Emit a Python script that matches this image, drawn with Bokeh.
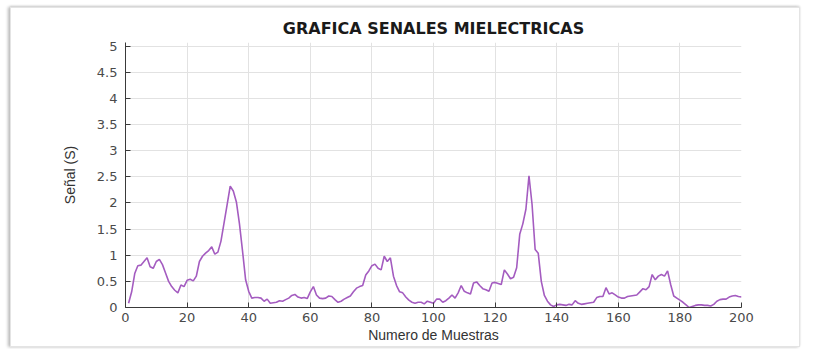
from bokeh.plotting import figure
from bokeh.models import FixedTicker, Range1d
from bokeh.embed import file_html
from bokeh.resources import INLINE

title_text = "GRAFICA SENALES MIELECTRICAS"
x_label = "Numero de Muestras"
y_label = "Señal (S)"

samples = list(range(1, 201))
signal = [
    0.08, 0.30, 0.65, 0.80, 0.81, 0.88, 0.95, 0.78, 0.75, 0.88,
    0.92, 0.82, 0.66, 0.50, 0.40, 0.33, 0.28, 0.43, 0.40, 0.52,
    0.54, 0.51, 0.60, 0.88, 0.98, 1.04, 1.09, 1.16, 1.02, 1.06,
    1.27, 1.62, 1.97, 2.32, 2.23, 2.02, 1.60, 1.08, 0.53, 0.31,
    0.18, 0.19, 0.19, 0.18, 0.12, 0.16, 0.08, 0.09, 0.10, 0.13,
    0.12, 0.15, 0.18, 0.23, 0.25, 0.20, 0.18, 0.19, 0.17, 0.30,
    0.40, 0.24, 0.18, 0.17, 0.18, 0.22, 0.21, 0.15, 0.10, 0.12,
    0.16, 0.19, 0.22, 0.30, 0.37, 0.40, 0.42, 0.62, 0.70, 0.80,
    0.83, 0.75, 0.72, 0.98, 0.88, 0.95, 0.60, 0.42, 0.30, 0.28,
    0.20, 0.14, 0.10, 0.08, 0.10, 0.10, 0.07, 0.12, 0.10, 0.08,
    0.16, 0.16, 0.10, 0.13, 0.18, 0.24, 0.18, 0.28, 0.42, 0.31,
    0.28, 0.26, 0.47, 0.49, 0.42, 0.36, 0.34, 0.31, 0.47, 0.48,
    0.46, 0.44, 0.72, 0.64, 0.55, 0.58, 0.76, 1.40, 1.60, 1.88,
    2.52, 1.97, 1.11, 1.04, 0.50, 0.23, 0.12, 0.05, 0.02, 0.05,
    0.06, 0.05, 0.04, 0.06, 0.05, 0.13, 0.08, 0.06, 0.07, 0.08,
    0.09, 0.10, 0.19, 0.21, 0.21, 0.38, 0.26, 0.28, 0.24, 0.20,
    0.18, 0.18, 0.21, 0.22, 0.23, 0.24, 0.30, 0.36, 0.34, 0.40,
    0.63, 0.53, 0.60, 0.63, 0.60, 0.70, 0.44, 0.22, 0.18, 0.14,
    0.10, 0.05, 0.00, 0.02, 0.04, 0.05, 0.05, 0.04, 0.04, 0.03,
    0.06, 0.12, 0.15, 0.16, 0.16, 0.20, 0.22, 0.23, 0.21, 0.20,
]

x_ticks = [0, 20, 40, 60, 80, 100, 120, 140, 160, 180, 200]
y_ticks = [0, 0.5, 1, 1.5, 2, 2.5, 3, 3.5, 4, 4.5, 5]
y_tick_labels = ["0", "0.5", "1", "1.5", "2", "2.5", "3", "3.5", "4", "4.5", "5"]

p = figure(width=790, height=340, output_backend="svg", toolbar_location=None,
           x_range=Range1d(0, 200), y_range=Range1d(0, 5.07),
           min_border_left=114, min_border_right=60,
           min_border_top=34, min_border_bottom=41,
           margin=(7, 0, 0, 10),
           styles={"box-shadow": "-2px 0px 3px #bbbbbb, 0px -1px 2px #dddddd",
                   "border": "1px solid #e4e4e4"})

p.line(samples, signal, line_color="#a45cc0", line_width=1.6)

p.title.text = title_text
p.title.align = "center"
p.title.text_font = "DejaVu Sans"
p.title.text_font_size = "16px"
p.title.text_font_style = "bold"
p.title.text_color = "#1a1a1a"

p.outline_line_color = None
p.background_fill_color = "white"
p.border_fill_color = "white"

p.xaxis.ticker = FixedTicker(ticks=x_ticks)
p.yaxis.ticker = FixedTicker(ticks=y_ticks)
p.yaxis.major_label_overrides = {t: l for t, l in zip(y_ticks, y_tick_labels)}

for ax in (p.xaxis[0], p.yaxis[0]):
    ax.axis_line_color = "#3a3a3a"
    ax.axis_line_width = 1
    ax.major_tick_in = 5
    ax.major_tick_out = 0
    ax.minor_tick_line_color = None
    ax.major_tick_line_color = "#3a3a3a"
    ax.major_label_text_font = "DejaVu Sans"
    ax.major_label_text_font_size = "13px"
    ax.major_label_text_color = "#4a4a4a"
    ax.axis_label_text_font = "Liberation Sans"
    ax.axis_label_text_font_size = "14px"
    ax.axis_label_text_font_style = "normal"
    ax.axis_label_text_color = "#333333"

p.yaxis.axis_label = y_label
p.xaxis.axis_label = x_label
p.xaxis.major_label_standoff = 5
p.xaxis.axis_label_standoff = 2
p.yaxis.major_label_standoff = 8
p.yaxis.axis_label_standoff = 16

p.xgrid.grid_line_color = "#e2e2e2"
p.ygrid.grid_line_color = "#e2e2e2"
p.xgrid.grid_line_width = 1
p.ygrid.grid_line_width = 1

open("out.html", "w").write(file_html(p, INLINE))
